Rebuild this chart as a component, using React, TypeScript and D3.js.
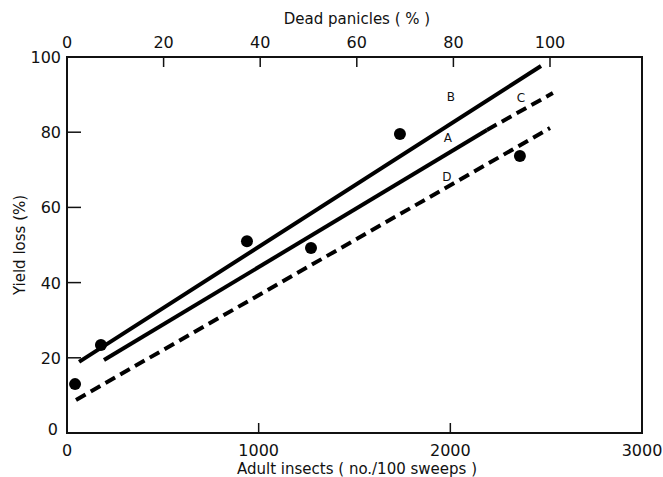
import React from 'react';
import * as d3 from 'd3';

// observed points (adult insects per 100 sweeps, yield loss %)
const pointX = [42, 177, 939, 1273, 1737, 2363];
const pointY = [13, 23.4, 51, 49.2, 79.5, 73.7];

// regression lines: [x0, y0, x1, y1]
const lineB = [63, 18.9, 2473, 97.6];
const lineA = [193, 19.4, 2191, 80.6];
const lineC = [2191, 80.6, 2535, 90.4];
const lineD = [47, 8.8, 2520, 81.1];

const lineLabels = [
  { name: 'B', x: 2003, y: 89.6 },
  { name: 'C', x: 2368, y: 89.4 },
  { name: 'A', x: 1987, y: 78.7 },
  { name: 'D', x: 1982, y: 68.4 },
];

const bottomTicks = [0, 1000, 2000, 3000];
const topTicks = [0, 20, 40, 60, 80, 100];
const leftTicks = [0, 20, 40, 60, 80, 100];

const W = 663;
const H = 477;
const font = '"DejaVu Sans", sans-serif';

const App = () => {
  const x = d3.scaleLinear().domain([0, 3000]).range([67, 642]);
  const xTop = d3.scaleLinear().domain([0, 100]).range([67, 550]);
  const y = d3.scaleLinear().domain([0, 100]).range([433, 57]);

  const line = d3
    .line<[number, number]>()
    .x(d => x(d[0]))
    .y(d => y(d[1]));

  const seg = (s: number[]) => line([[s[0], s[1]], [s[2], s[3]]]) || '';

  return (
    <svg width={W} height={H} style={{ position: 'absolute', left: 0, top: 0, background: '#fff' }}>
      <rect x={x(0)} y={y(100)} width={x(3000) - x(0)} height={y(0) - y(100)}
        fill="none" stroke="#111" strokeWidth={2} />

      {/* bottom axis */}
      {bottomTicks.map(t => (
        <g key={'b' + t}>
          {t > 0 && t < 3000 && (
            <line x1={x(t)} x2={x(t)} y1={y(0)} y2={y(0) - 10} stroke="#111" strokeWidth={1.5} />
          )}
          <text x={x(t)} y={456} textAnchor="middle" fontSize={16} fontFamily={font} fill="#111">{t}</text>
        </g>
      ))}
      <text x={357} y={474} textAnchor="middle" fontSize={15} fontFamily={font} fill="#111">
        Adult insects ( no./100 sweeps )
      </text>

      {/* top axis */}
      {topTicks.map(t => (
        <g key={'t' + t}>
          {t > 0 && (
            <line x1={xTop(t)} x2={xTop(t)} y1={y(100)} y2={y(100) + 10} stroke="#111" strokeWidth={1.5} />
          )}
          <text x={xTop(t)} y={48} textAnchor="middle" fontSize={16} fontFamily={font} fill="#111">{t}</text>
        </g>
      ))}
      <text x={357} y={24} textAnchor="middle" fontSize={15} fontFamily={font} fill="#111">
        Dead panicles ( % )
      </text>

      {/* left axis */}
      {leftTicks.map(t => (
        <g key={'l' + t}>
          {t > 0 && t < 100 && (
            <line x1={x(0)} x2={x(0) + 14} y1={y(t)} y2={y(t)} stroke="#111" strokeWidth={1.5} />
          )}
          <text x={t === 0 ? 58 : 61} y={y(t) + (t === 0 ? 2 : 6)} textAnchor="end" fontSize={16} fontFamily={font} fill="#111">{t}</text>
        </g>
      ))}
      <text transform={`translate(25,${y(50)}) rotate(-90)`} textAnchor="middle" fontSize={15} fontFamily={font} fill="#111">
        Yield loss (%)
      </text>

      {/* lines */}
      <path d={seg(lineB)} stroke="#000" strokeWidth={4} fill="none" />
      <path d={seg(lineA)} stroke="#000" strokeWidth={4} fill="none" />
      <path d={seg(lineC)} stroke="#000" strokeWidth={4} fill="none" strokeDasharray="11 6" />
      <path d={seg(lineD)} stroke="#000" strokeWidth={4} fill="none" strokeDasharray="11 6" />

      {lineLabels.map(l => (
        <text key={l.name} x={x(l.x)} y={y(l.y) + 5} textAnchor="middle" fontSize={12} fontFamily={font} fill="#111">
          {l.name}
        </text>
      ))}

      {/* points */}
      {pointX.map((px, i) => (
        <circle key={i} cx={x(px)} cy={y(pointY[i])} r={6} fill="#000" />
      ))}
    </svg>
  );
};

export default App;
